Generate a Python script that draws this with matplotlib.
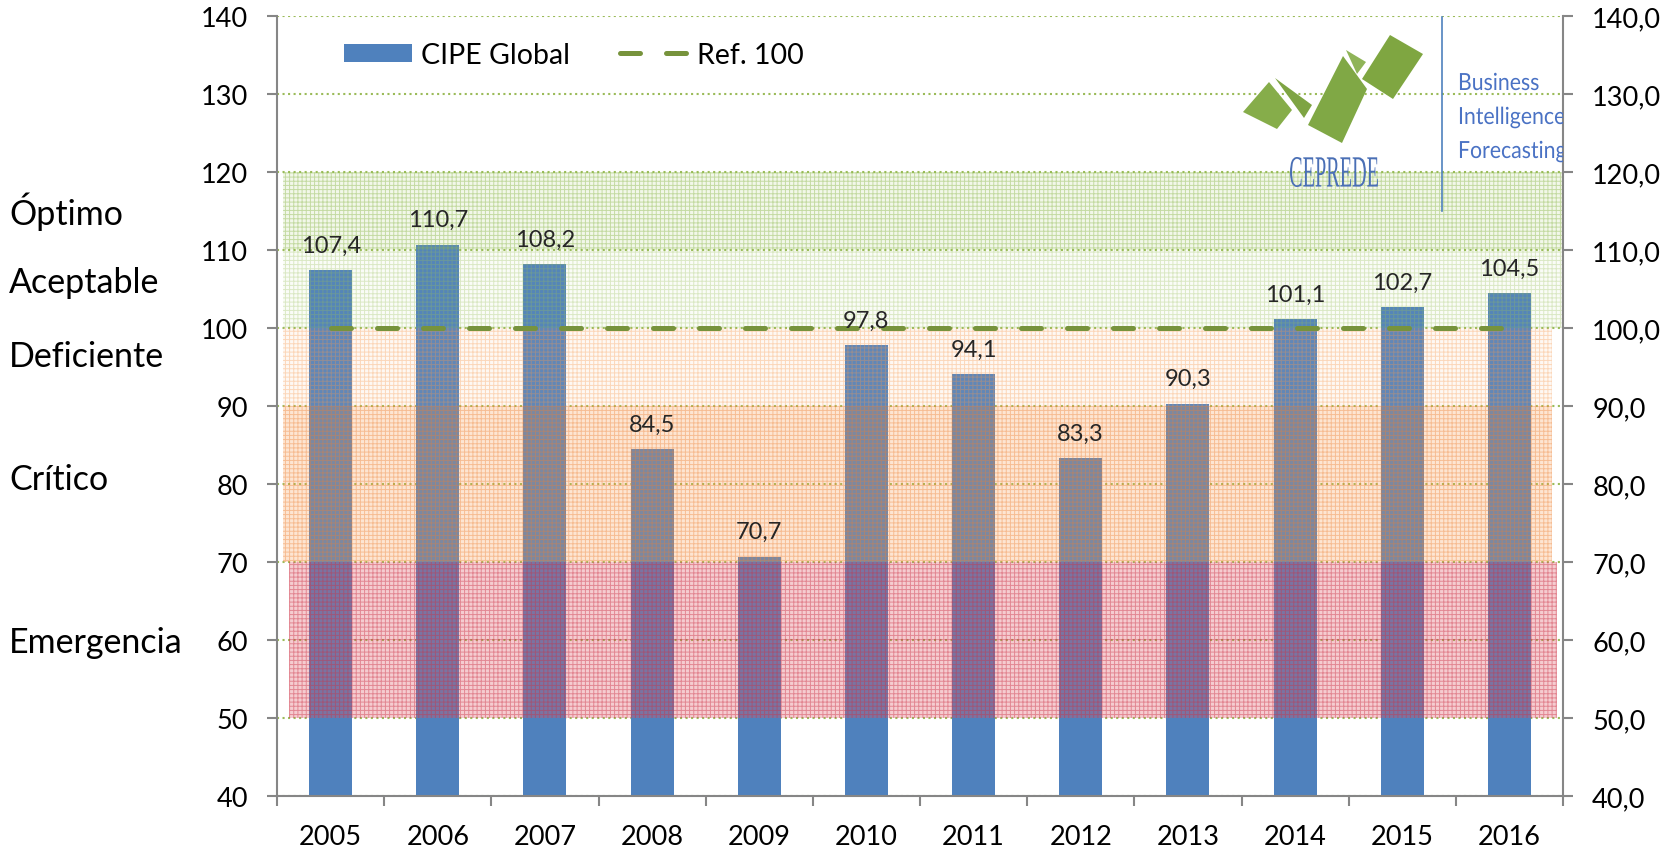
import matplotlib
matplotlib.use("Agg")
import matplotlib.pyplot as plt
import numpy as np
from matplotlib.patches import Patch, Polygon, PathPatch
from matplotlib.lines import Line2D
from matplotlib.textpath import TextPath
from matplotlib.font_manager import FontProperties
from matplotlib.transforms import Affine2D

plt.rcParams["font.family"] = ["Lato", "DejaVu Sans"]
plt.rcParams["hatch.linewidth"] = 0.7

# data
years = ["2005", "2006", "2007", "2008", "2009", "2010",
         "2011", "2012", "2013", "2014", "2015", "2016"]
cipe_global = [107.4, 110.7, 108.2, 84.5, 70.7, 97.8,
               94.1, 83.3, 90.3, 101.1, 102.7, 104.5]
ref_value = 100
band_low = [50, 70, 90, 100, 110]
band_high = [70, 90, 100, 110, 120]
zone_names = ["Óptimo", "Aceptable", "Deficiente", "Crítico", "Emergencia"]
zone_label_y = [212, 283, 357, 480, 643]  # pixel rows of the side labels

W, H = 1666, 854
BLUE = "#4f81bd"
GRID_GREEN = "#9bbb59"
REF_GREEN = "#77933c"
AXIS_GRAY = "#868686"

fig = plt.figure(figsize=(W / 100, H / 100), dpi=100)
ax = fig.add_axes([277 / W, 1 - 797 / H, (1563 - 277) / W, (797 - 17) / H])

x = np.arange(len(years))
ax.bar(x, cipe_global, width=0.4, color=BLUE, zorder=2)

# coloured zones (drawn over the bars, translucent + fine grid texture)
band_styles = [
    dict(x0=-0.39, x1=11.44, face=(0.87, 0.35, 0.40, 0.30), hatch=(0.80, 0.20, 0.28, 0.45)),
    dict(x0=-0.44, x1=11.40, face=(0.98, 0.62, 0.32, 0.26), hatch=(0.93, 0.50, 0.20, 0.40)),
    dict(x0=-0.44, x1=11.40, face=(0.99, 0.75, 0.55, 0.10), hatch=(0.97, 0.60, 0.30, 0.35)),
    dict(x0=-0.44, x1=11.50, face=(0.70, 0.82, 0.50, 0.06), hatch=(0.60, 0.75, 0.35, 0.32)),
    dict(x0=-0.44, x1=11.50, face=(0.65, 0.80, 0.40, 0.14), hatch=(0.55, 0.72, 0.30, 0.45)),
]
for lo, hi, st in zip(band_low, band_high, band_styles):
    ax.fill_between([st["x0"], st["x1"]], lo, hi, facecolor=st["face"],
                    edgecolor=st["hatch"], hatch="++++", linewidth=0, zorder=3)

# reference line
ax.plot(x, [ref_value] * len(x), color=REF_GREEN, lw=3.6,
        ls=(0, (4, 5.2)), dash_capstyle="round", zorder=5)

# value labels
for xi, v in zip(x, cipe_global):
    ax.annotate(f"{v:.1f}".replace(".", ","), xy=(xi, v), xytext=(0, 18),
                textcoords="offset points", ha="center", va="center",
                fontsize=17, color="#262626", zorder=6)

ax.set_xlim(-0.5, len(years) - 0.5)
ax.set_ylim(40, 140)
ax.set_yticks(np.arange(40, 141, 10))
ax.yaxis.grid(True, color=GRID_GREEN, ls=":", lw=1.5, zorder=1)
ax.set_axisbelow(True)

ax.set_xticks(x)
ax.set_xticklabels(years)
ax.set_xticks(np.arange(-0.5, len(years), 1), minor=True)
ax.tick_params(axis="x", which="major", length=0, pad=20, labelsize=19.5)
ax.tick_params(axis="x", which="minor", length=7, width=1.5, color=AXIS_GRAY)
ax.tick_params(axis="y", length=7, width=1.5, color=AXIS_GRAY, pad=14, labelsize=19.5)

for side in ["left", "bottom"]:
    ax.spines[side].set_color(AXIS_GRAY)
    ax.spines[side].set_linewidth(1.5)
ax.spines["top"].set_visible(False)
ax.spines["right"].set_visible(False)

ax2 = ax.twinx()
ax2.set_ylim(40, 140)
ax2.set_yticks(np.arange(40, 141, 10))
ax2.set_yticklabels([f"{t:.1f}".replace(".", ",") for t in np.arange(40, 141, 10)])
ax2.tick_params(axis="y", length=7, width=1.5, color=AXIS_GRAY, pad=14, labelsize=19.5)
for side in ["left", "top", "bottom"]:
    ax2.spines[side].set_visible(False)
ax2.spines["right"].set_color(AXIS_GRAY)
ax2.spines["right"].set_linewidth(1.5)

# legend
handles = [Patch(facecolor=BLUE, edgecolor="none"),
           Line2D([0], [0], color=REF_GREEN, lw=3.6, ls=(0, (4, 5.2)),
                  dash_capstyle="round")]
fig.legend(handles, ["CIPE Global", "Ref. 100"], loc="upper left",
           bbox_to_anchor=(344 / W, 1 - 43 / H), bbox_transform=fig.transFigure,
           ncol=2, frameon=False, fontsize=20.5, handlelength=2.4, handleheight=0.62,
           handletextpad=0.3, columnspacing=1.75, borderpad=0, borderaxespad=0)

# zone names on the left
for name, py in zip(zone_names, zone_label_y):
    fig.text(9 / W, 1 - py / H, name, ha="left", va="center", fontsize=24.5)


# CEPREDE logo (pixel coordinates of the reference image)
def fpt(px, py):
    return (px / W, 1 - py / H)


logo_shapes = [
    [(1243, 113), (1269, 83), (1292, 111), (1277, 130)],
    [(1275, 79), (1312, 106), (1304, 119)],
    [(1308, 126), (1343, 57), (1367, 90), (1342, 144)],
    [(1346, 51), (1366, 63), (1357, 75)],
    [(1362, 80), (1390, 36), (1423, 55), (1393, 100)],
]
for shp, col in zip(logo_shapes, ["#86ad4a", "#7ea443", "#80a845", "#8fb458", "#7fa641"]):
    fig.add_artist(Polygon([fpt(*p) for p in shp], closed=True, facecolor=col,
                           edgecolor="none", transform=fig.transFigure))

tp = TextPath((0, 0), "CEPREDE", size=100, prop=FontProperties(family="Liberation Serif"))
ext = tp.get_extents()
tr = Affine2D().translate(-ext.x0, -ext.y0).scale(88 / ext.width, 30 / ext.height) \
    .translate(1290, H - 188)
fig.add_artist(PathPatch(tp, transform=tr, facecolor="#4a6fb5", edgecolor="none"))

fig.add_artist(Line2D([1442 / W, 1442 / W], [1 - 18 / H, 1 - 212 / H],
                      color="#4f81bd", lw=1.2, transform=fig.transFigure))

# condensed blue words next to the logo, clipped at the right axis like the original
lato = FontProperties(family="Lato")
for word, base in zip(["Business", "Intelligence", "Forecasting"], [91, 125, 159]):
    wp = TextPath((0, 0), word, size=17 * 100 / 72, prop=lato)
    wtr = Affine2D().scale(0.9, 1.0).translate(1458, H - base)
    patch = PathPatch(wp, transform=wtr, facecolor="#4a72c4", edgecolor="none")
    patch.set_clip_box(ax.bbox)
    fig.add_artist(patch)

fig.savefig("out.png", dpi=100)
